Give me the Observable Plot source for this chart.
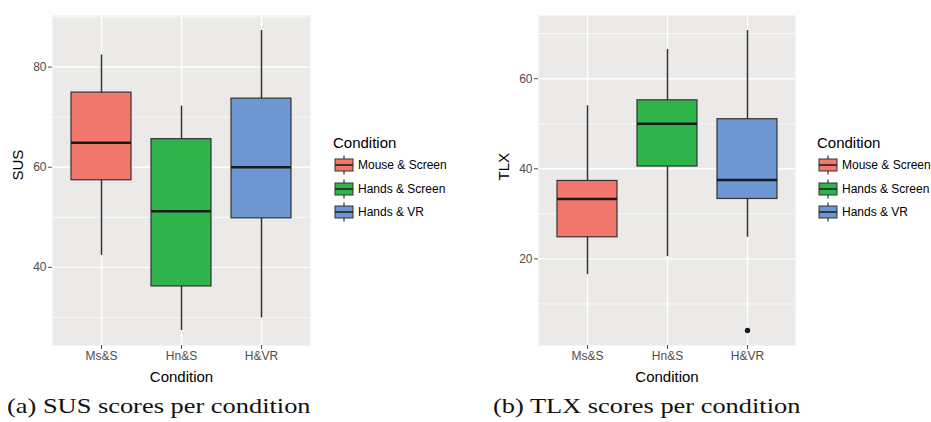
<!DOCTYPE html>
<html><head><meta charset="utf-8">
<script src="https://cdn.jsdelivr.net/npm/d3@7"></script>
<script src="https://cdn.jsdelivr.net/npm/@observablehq/plot@0.6"></script>
<style>
body{margin:0;background:#fff;}
#root{position:relative;width:931px;height:422px;overflow:hidden;font-family:"Liberation Sans",Arial,sans-serif;}
.panel{position:absolute;top:0;}
.legend-title{position:absolute;font-size:15px;line-height:18px;color:#000;white-space:nowrap;}
.legend-row{position:absolute;height:23.5px;display:flex;align-items:center;font-size:12px;color:#000;white-space:nowrap;}
.legend-row svg{margin-right:4px;}
.caption{position:absolute;font-family:"Liberation Serif","Times New Roman",serif;font-size:22px;line-height:26px;color:#111;white-space:nowrap;transform:scaleX(1.2);transform-origin:left center;}
</style></head><body><div id="root"></div>
<script>
// ---- data ----
const categories = ["Ms&S", "Hn&S", "H&VR"];
const legendLabels = ["Mouse & Screen", "Hands & Screen", "Hands & VR"];
const colors = ["#F2776C", "#2EB44B", "#6D96D3"];

// SUS panel (box-plot statistics)
const susLow    = [42.4, 27.4, 29.9];
const susQ1     = [57.4, 36.2, 49.8];
const susMedian = [64.9, 51.2, 60.0];
const susQ3     = [74.9, 65.6, 73.7];
const susHigh   = [82.4, 72.2, 87.3];
const susOutlierCats = [];
const susOutlierVals = [];
const susTicks = [40, 60, 80];
const susMinor = [30, 50, 70, 90];

// TLX panel
const tlxLow    = [16.5, 20.5, 24.8];
const tlxQ1     = [24.8, 40.5, 33.3];
const tlxMedian = [33.3, 50.0, 37.5];
const tlxQ3     = [37.3, 55.2, 51.0];
const tlxHigh   = [54.0, 66.5, 70.7];
const tlxOutlierCats = ["H&VR"];
const tlxOutlierVals = [4.1];
const tlxTicks = [20, 40, 60];
const tlxMinor = [10, 30, 50, 70];

const captions = ["(a) SUS scores per condition", "(b) TLX scores per condition"];

// ---- helpers ----
function expand(vals) {
  const lo = d3.min(vals), hi = d3.max(vals), p = (hi - lo) * 0.05;
  return [lo - p, hi + p];
}

function chart(o) {
  const rows = categories.map((c, i) => ({cat: c, low: o.low[i], q1: o.q1[i], median: o.median[i], q3: o.q3[i], high: o.high[i]}));
  const outliers = o.outCats.map((c, i) => ({cat: c, value: o.outVals[i]}));
  const domain = expand([...o.low, ...o.high, ...o.outVals]);
  return Plot.plot({
    width: o.width, height: 390,
    marginLeft: o.marginLeft, marginRight: o.marginRight, marginTop: 15, marginBottom: 45,
    style: {fontFamily: "'Liberation Sans', Arial, sans-serif", background: "transparent", overflow: "visible"},
    x: {type: "band", domain: categories, paddingInner: 0.25, paddingOuter: 0.225},
    y: {domain},
    color: {domain: categories, range: colors},
    marks: [
      Plot.frame({fill: "#EBEAE8", stroke: null}),
      Plot.ruleY(o.minor, {stroke: "white", strokeWidth: 0.7}),
      Plot.ruleY(o.ticks, {stroke: "white", strokeWidth: 1.4}),
      Plot.ruleX(categories, {stroke: "white", strokeWidth: 1.4}),
      Plot.axisY({ticks: o.ticks, tickSize: 4, tickPadding: 2, fontSize: 12, color: "#4D4D4D", label: null}),
      Plot.axisX({tickSize: 4, tickPadding: 2, fontSize: 12, color: "#4D4D4D", label: null}),
      Plot.ruleX(rows, {x: "cat", y1: "low", y2: "high", stroke: "#333", strokeWidth: 1.5}),
      Plot.barY(rows, {x: "cat", y1: "q1", y2: "q3", fill: "cat", stroke: "#333", strokeWidth: 1.2}),
      Plot.tickY(rows, {x: "cat", y: "median", stroke: "#1a1a1a", strokeWidth: 2.6}),
      Plot.dot(outliers, {x: "cat", y: "value", r: 2.7, fill: "#1a1a1a", stroke: null}),
      Plot.text([o.yLabel], {text: d => d, frameAnchor: "left", dx: -34, rotate: -90, fontSize: 15, fill: "#000"}),
      Plot.text(["Condition"], {text: d => d, frameAnchor: "bottom", dy: 32, lineAnchor: "middle", fontSize: 15, fill: "#000"})
    ]
  });
}

function keySvg(color) {
  const ns = "http://www.w3.org/2000/svg";
  const s = document.createElementNS(ns, "svg");
  s.setAttribute("width", 20); s.setAttribute("height", 22);
  s.innerHTML = `<line x1="10" x2="10" y1="1.5" y2="20.5" stroke="#333" stroke-width="1.2"/>
    <rect x="1" y="5" width="18" height="12" fill="${color}" stroke="#333" stroke-width="1"/>
    <line x1="1" x2="19" y1="11" y2="11" stroke="#222" stroke-width="1.6"/>`;
  return s;
}

function legend(root, left) {
  const t = document.createElement("div");
  t.className = "legend-title"; t.textContent = "Condition";
  t.style.left = left + "px"; t.style.top = "133.5px";
  root.appendChild(t);
  legendLabels.forEach((lab, i) => {
    const r = document.createElement("div");
    r.className = "legend-row";
    r.style.left = (left + 1) + "px"; r.style.top = (153.25 + 23.5 * i) + "px";
    r.appendChild(keySvg(colors[i]));
    const sp = document.createElement("span"); sp.textContent = lab;
    r.appendChild(sp);
    root.appendChild(r);
  });
}

// ---- layout ----
const root = document.getElementById("root");

const a = chart({low: susLow, q1: susQ1, median: susMedian, q3: susQ3, high: susHigh,
  outCats: susOutlierCats, outVals: susOutlierVals, ticks: susTicks, minor: susMinor,
  yLabel: "SUS", width: 320, marginLeft: 52, marginRight: 10});
a.classList.add("panel"); a.style.left = "0px";
root.appendChild(a);

const b = chart({low: tlxLow, q1: tlxQ1, median: tlxMedian, q3: tlxQ3, high: tlxHigh,
  outCats: tlxOutlierCats, outVals: tlxOutlierVals, ticks: tlxTicks, minor: tlxMinor,
  yLabel: "TLX", width: 320, marginLeft: 58, marginRight: 5});
b.classList.add("panel"); b.style.left = "480px";
root.appendChild(b);

legend(root, 333);
legend(root, 817);

[[7, captions[0]], [493, captions[1]]].forEach(([x, txt]) => {
  const c = document.createElement("div");
  c.className = "caption"; c.textContent = txt;
  c.style.left = x + "px"; c.style.top = "393px";
  root.appendChild(c);
});
</script>
</body></html>
